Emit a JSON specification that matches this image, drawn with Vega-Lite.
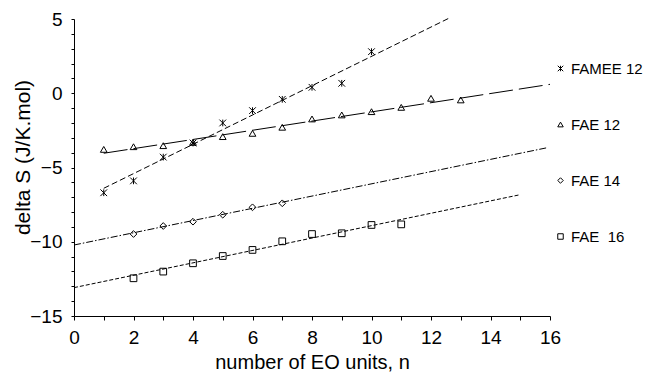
{
  "$schema": "https://vega.github.io/schema/vega-lite/v6.json",
  "width": 476,
  "height": 297,
  "autosize": {"type": "none"},
  "padding": {"left": 74, "top": 19, "right": 95, "bottom": 68},
  "background": "white",
  "config": {
    "view": {"stroke": null},
    "font": "Liberation Sans",
    "axis": {
      "grid": false,
      "domainColor": "black",
      "tickColor": "black",
      "labelColor": "black",
      "titleColor": "black",
      "labelFont": "Liberation Sans",
      "titleFont": "Liberation Sans",
      "titleFontWeight": "normal",
      "labelFontSize": 19,
      "titleFontSize": 20
    },
    "legend": {
      "labelFont": "Liberation Sans",
      "labelFontSize": 15,
      "labelColor": "black",
      "labelLimit": 0
    }
  },
  "datasets": {
    "points": [
      {"series": "FAMEE 12", "n": 1, "dS": -6.7},
      {"series": "FAMEE 12", "n": 2, "dS": -5.9},
      {"series": "FAMEE 12", "n": 3, "dS": -4.3},
      {"series": "FAMEE 12", "n": 4, "dS": -3.35},
      {"series": "FAMEE 12", "n": 5, "dS": -2.0},
      {"series": "FAMEE 12", "n": 6, "dS": -1.17},
      {"series": "FAMEE 12", "n": 7, "dS": -0.41},
      {"series": "FAMEE 12", "n": 8, "dS": 0.4},
      {"series": "FAMEE 12", "n": 9, "dS": 0.67},
      {"series": "FAMEE 12", "n": 10, "dS": 2.8},
      {"series": "FAE 12", "n": 1, "dS": -3.78},
      {"series": "FAE 12", "n": 2, "dS": -3.6},
      {"series": "FAE 12", "n": 3, "dS": -3.53},
      {"series": "FAE 12", "n": 4, "dS": -3.31},
      {"series": "FAE 12", "n": 5, "dS": -2.92},
      {"series": "FAE 12", "n": 6, "dS": -2.7},
      {"series": "FAE 12", "n": 7, "dS": -2.29},
      {"series": "FAE 12", "n": 8, "dS": -1.73},
      {"series": "FAE 12", "n": 9, "dS": -1.46},
      {"series": "FAE 12", "n": 10, "dS": -1.24},
      {"series": "FAE 12", "n": 11, "dS": -0.95},
      {"series": "FAE 12", "n": 12, "dS": -0.34},
      {"series": "FAE 12", "n": 13, "dS": -0.45},
      {"series": "FAE 14", "n": 2, "dS": -9.48},
      {"series": "FAE 14", "n": 3, "dS": -8.94},
      {"series": "FAE 14", "n": 4, "dS": -8.65},
      {"series": "FAE 14", "n": 5, "dS": -8.18},
      {"series": "FAE 14", "n": 6, "dS": -7.68},
      {"series": "FAE 14", "n": 7, "dS": -7.41},
      {"series": "FAE\u00a0 16", "n": 2, "dS": -12.46},
      {"series": "FAE\u00a0 16", "n": 3, "dS": -12.01},
      {"series": "FAE\u00a0 16", "n": 4, "dS": -11.45},
      {"series": "FAE\u00a0 16", "n": 5, "dS": -10.96},
      {"series": "FAE\u00a0 16", "n": 6, "dS": -10.55},
      {"series": "FAE\u00a0 16", "n": 7, "dS": -9.97},
      {"series": "FAE\u00a0 16", "n": 8, "dS": -9.48},
      {"series": "FAE\u00a0 16", "n": 9, "dS": -9.43},
      {"series": "FAE\u00a0 16", "n": 10, "dS": -8.87},
      {"series": "FAE\u00a0 16", "n": 11, "dS": -8.83}
    ],
    "fits": [
      {"fit": "FAMEE 12", "n": 1, "dS": -6.4},
      {"fit": "FAMEE 12", "n": 12.6, "dS": 5.05},
      {"fit": "FAE 12", "n": 1, "dS": -4.04},
      {"fit": "FAE 12", "n": 16, "dS": 0.6},
      {"fit": "FAE 14", "n": 0, "dS": -10.22},
      {"fit": "FAE 14", "n": 15.9, "dS": -3.67},
      {"fit": "FAE 16", "n": 0, "dS": -13.09},
      {"fit": "FAE 16", "n": 15, "dS": -6.83}
    ]
  },
  "encoding": {
    "x": {
      "field": "n",
      "type": "quantitative",
      "scale": {"domain": [0, 16], "nice": false, "zero": false},
      "axis": {
        "title": "number of EO units, n",
        "values": [0,1,2,3,4,5,6,7,8,9,10,11,12,13,14,15,16],
        "labelExpr": "datum.value % 2 == 0 ? datum.label : ''",
        "tickSize": 4,
        "labelPadding": 8,
        "titlePadding": 5,
        "labelFlush": false,
        "labelOverlap": false
      }
    },
    "y": {
      "field": "dS",
      "type": "quantitative",
      "scale": {"domain": [-15, 5], "nice": false, "zero": false},
      "axis": {
        "title": "delta S (J/K.mol)",
        "titleFontSize": 21,
        "titleX": -41,
        "titleY": 138,
        "values": [-15,-14,-13,-12,-11,-10,-9,-8,-7,-6,-5,-4,-3,-2,-1,0,1,2,3,4,5],
        "labelExpr": "datum.value % 5 == 0 ? format(datum.value, 'd') : ''",
        "tickSize": 3,
        "labelPadding": 9,
        "labelFlush": false,
        "labelOverlap": false
      }
    }
  },
  "layer": [
    {
      "data": {"name": "fits"},
      "mark": {"type": "line", "color": "black", "strokeWidth": 1},
      "encoding": {
        "detail": {"field": "fit"},
        "strokeDash": {
          "field": "fit",
          "type": "nominal",
          "scale": {
            "domain": ["FAMEE 12", "FAE 12", "FAE 14", "FAE 16"],
            "range": [[6, 3], [24, 6], [7, 2, 1.5, 2], [4, 2]]
          },
          "legend": null
        }
      }
    },
    {
      "data": {"name": "points"},
      "mark": {"type": "point", "filled": false, "color": "black", "strokeWidth": 1, "size": 45, "opacity": 1},
      "encoding": {
        "shape": {
          "field": "series",
          "type": "nominal",
          "scale": {
            "domain": ["FAMEE 12", "FAE 12", "FAE 14", "FAE\u00a0 16"],
            "range": ["M-1,-1L1,1M-1,1L1,-1M0,-1L0,1", "triangle-up", "diamond", "square"]
          },
          "legend": {
            "title": null,
            "orient": "none",
            "legendX": 479,
            "legendY": 42,
            "symbolSize": 30,
            "symbolStrokeColor": "black",
            "symbolFillColor": "transparent",
            "symbolStrokeWidth": 1,
            "rowPadding": 40,
            "labelOffset": 3
          }
        }
      }
    }
  ],
  "resolve": {"legend": {"shape": "independent", "strokeDash": "independent"}}
}
